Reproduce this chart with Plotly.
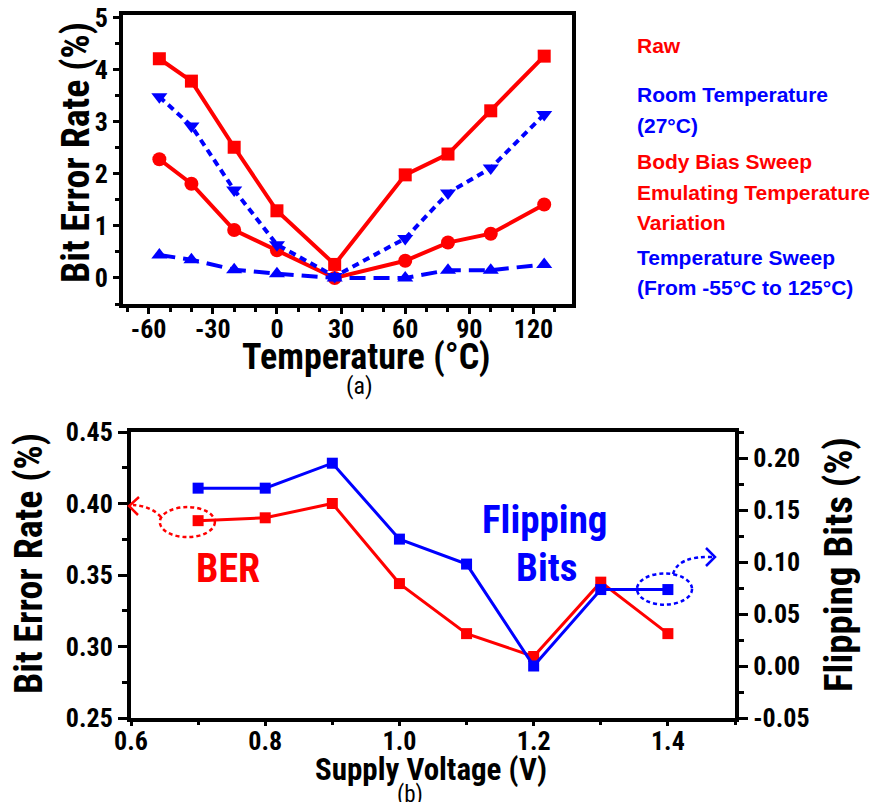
import plotly.graph_objects as go

# ---------------- data ----------------
temps = [-55, -40, -20, 0, 27, 60, 80, 100, 125]
raw_body_bias = [4.21, 3.78, 2.51, 1.29, 0.26, 1.98, 2.38, 3.21, 4.26]
raw_room = [2.28, 1.81, 0.92, 0.53, 0.0, 0.33, 0.68, 0.85, 1.41]
temp_sweep_hi = [3.48, 2.92, 1.69, 0.64, 0.03, 0.76, 1.63, 2.11, 3.14]
temp_sweep_lo = [0.44, 0.35, 0.16, 0.08, 0.0, 0.0, 0.15, 0.15, 0.26]

volts = [0.7, 0.8, 0.9, 1.0, 1.1, 1.2, 1.3, 1.4]
ber = [0.388, 0.390, 0.400, 0.344, 0.309, 0.293, 0.345, 0.309]
flip = [0.171, 0.171, 0.195, 0.122, 0.098, 0.0, 0.0735, 0.0735]

temp_ticks = [-60, -30, 0, 30, 60, 90, 120]
temp_ticktext = ["-60", "-30", "0", "30", "60", "90", "120"]
volt_ticks = [0.6, 0.8, 1.0, 1.2, 1.4]
volt_ticktext = ["0.6", "0.8", "1.0", "1.2", "1.4"]
ber_ticks = [0.25, 0.30, 0.35, 0.40, 0.45]
ber_ticktext = ["0.25", "0.30", "0.35", "0.40", "0.45"]
flip_ticks = [-0.05, 0.0, 0.05, 0.10, 0.15, 0.20]
flip_ticktext = ["-0.05", "0.00", "0.05", "0.10", "0.15", "0.20"]
legend_lines = [
    ("Raw", "red"),
    ("Room Temperature", "blue"),
    ("(27°C)", "blue"),
    ("Body Bias Sweep", "red"),
    ("Emulating Temperature", "red"),
    ("Variation", "red"),
    ("Temperature Sweep", "blue"),
    ("(From -55°C to 125°C)", "blue"),
]

PAGE_W, PAGE_H = 882, 810
OFF = 8  # default body margin of the page
W, H = PAGE_W - 2 * OFF, PAGE_H - 2 * OFF
RED = "#FF0000"
BLUE = "#0000FF"
NARROW = "Roboto Condensed, Liberation Sans Narrow, Arial Narrow, Liberation Sans, Arial"
ARIAL = "Liberation Sans, Arial"


def px(x, y):
    """page pixel -> paper coordinates"""
    return (x - OFF) / W, 1 - (y - OFF) / H


fig = go.Figure()

fig.add_trace(go.Scatter(x=temps, y=raw_body_bias, name="Raw, Body Bias Sweep",
                         mode="lines+markers", xaxis="x", yaxis="y",
                         line=dict(color=RED, width=4),
                         marker=dict(symbol="square", size=13, color=RED)))
fig.add_trace(go.Scatter(x=temps, y=raw_room, name="Raw, Room Temperature",
                         mode="lines+markers", xaxis="x", yaxis="y",
                         line=dict(color=RED, width=4),
                         marker=dict(symbol="circle", size=14, color=RED)))
fig.add_trace(go.Scatter(x=temps, y=temp_sweep_hi, name="Temperature Sweep",
                         mode="lines+markers", xaxis="x", yaxis="y",
                         line=dict(color=BLUE, width=4, dash="7px,5px"),
                         marker=dict(symbol="triangle-down", size=14, color=BLUE)))
fig.add_trace(go.Scatter(x=temps, y=temp_sweep_lo, name="Temperature Sweep (room)",
                         mode="lines+markers", xaxis="x", yaxis="y",
                         line=dict(color=BLUE, width=4, dash="16px,8px"),
                         marker=dict(symbol="triangle-up", size=14, color=BLUE)))

fig.add_trace(go.Scatter(x=volts, y=ber, name="BER", mode="lines+markers",
                         xaxis="x2", yaxis="y2",
                         line=dict(color=RED, width=3),
                         marker=dict(symbol="square", size=11, color=RED)))
fig.add_trace(go.Scatter(x=volts, y=flip, name="Flipping Bits", mode="lines+markers",
                         xaxis="x2", yaxis="y3",
                         line=dict(color=BLUE, width=3),
                         marker=dict(symbol="square", size=11, color=BLUE)))

tickfont_top = dict(family=NARROW, size=26, color="black", weight="bold")
tickfont_bot = dict(family=NARROW, size=26, color="black", weight="bold")

axis_common = dict(showline=True, linecolor="black", linewidth=4, mirror=True,
                   ticks="outside", tickcolor="black", tickwidth=3,
                   showgrid=False, zeroline=False, automargin=False,
                   ticklabeloverflow="allow")

x0d, y0d = px(123, 304)
x1d, y1d = px(572, 15)
bx0, by0 = px(131, 718)
bx1, by1 = px(735, 432)

fig.update_layout(
    width=W, height=H,
    margin=dict(l=0, r=0, t=0, b=0, autoexpand=False),
    paper_bgcolor="white", plot_bgcolor="white",
    showlegend=False,
    xaxis=dict(domain=[x0d, x1d], anchor="y", range=[-72, 138],
               tickvals=temp_ticks, ticktext=temp_ticktext, ticklen=6,
               tickfont=tickfont_top, ticklabelstandoff=-7,
               minor=dict(dtick=10, tick0=0, ticks="outside", ticklen=4,
                          tickwidth=3, tickcolor="black"),
               **axis_common),
    yaxis=dict(domain=[y0d, y1d], anchor="x", range=[-0.5, 5.05],
               dtick=1, tick0=0, ticklen=6, tickfont=tickfont_top,
               minor=dict(dtick=0.5, ticks="outside", ticklen=4,
                          tickwidth=3, tickcolor="black"),
               **axis_common),
    xaxis2=dict(domain=[bx0, bx1], anchor="y2", range=[0.6, 1.5],
                tickvals=volt_ticks, ticktext=volt_ticktext, ticklen=4,
                tickfont=tickfont_bot, ticklabelstandoff=-7,
                minor=dict(dtick=0.1, tick0=0.6, ticks="outside", ticklen=3,
                           tickwidth=3, tickcolor="black"),
                **axis_common),
    yaxis2=dict(domain=[by0, by1], anchor="x2", range=[0.25, 0.45],
                tickvals=ber_ticks, ticktext=ber_ticktext, ticklen=9,
                tickfont=tickfont_bot,
                minor=dict(dtick=0.025, tick0=0.25, ticks="outside", ticklen=5,
                           tickwidth=3, tickcolor="black"),
                **axis_common),
    yaxis3=dict(overlaying="y2", anchor="x2", side="right",
                range=[-0.05, 0.225], tickvals=flip_ticks, ticktext=flip_ticktext,
                ticklen=9, tickfont=tickfont_bot,
                minor=dict(dtick=0.025, tick0=-0.05, ticks="outside", ticklen=5,
                           tickwidth=3, tickcolor="black"),
                showline=True, linecolor="black", linewidth=4,
                ticks="outside", tickcolor="black", tickwidth=3,
                showgrid=False, zeroline=False, automargin=False,
                ticklabeloverflow="allow"),
)

annotations = []


def add_text(text, xp, yp, size, color="black", bold=True, family=NARROW,
             angle=0, xanchor="center"):
    ax, ay = px(xp, yp)
    annotations.append(dict(text=text, x=ax, y=ay, xref="paper", yref="paper",
                            showarrow=False, textangle=angle, xanchor=xanchor,
                            yanchor="middle",
                            font=dict(family=family, size=size, color=color,
                                      weight="bold" if bold else "normal")))


add_text("Temperature (°C)", 366, 357, 36)
add_text("Bit Error Rate (%)", 76, 153, 38, angle=-90)
add_text("(a)", 359, 386, 24, bold=False)

legend_y = [45, 95, 125, 162, 193, 223, 258, 288]
for (txt, col), yy in zip(legend_lines, legend_y):
    add_text(txt, 635, yy, 21, color=RED if col == "red" else BLUE,
             family=ARIAL, xanchor="left")

add_text("Supply Voltage (V)", 431, 769, 31)
add_text("Bit Error Rate (%)", 29, 564, 38, angle=-90)
add_text("Flipping Bits (%)", 839, 565, 39, angle=-90)
add_text("(b)", 410, 794, 23, bold=False)
add_text("BER", 228, 568, 40, color=RED)
add_text("Flipping", 545, 520, 39, color=BLUE)
add_text("Bits", 546, 568, 39, color=BLUE)

fig.update_layout(annotations=annotations)

shapes = []
shapes.append(dict(type="circle", xref="x2", yref="y2",
                   x0=volts[0] - 0.057, x1=volts[0] + 0.025,
                   y0=ber[0] - 0.0115, y1=ber[0] + 0.0095,
                   line=dict(color=RED, width=2.5, dash="4px,3px")))
shapes.append(dict(type="circle", xref="x2", yref="y3",
                   x0=volts[-1] - 0.046, x1=volts[-1] + 0.036,
                   y0=flip[-1] - 0.0145, y1=flip[-1] + 0.0155,
                   line=dict(color=BLUE, width=2.5, dash="4px,3px")))


def pt(xx, yy):
    a, b = px(xx, yy)
    return f"{a:.5f},{b:.5f}"


shapes.append(dict(type="path", xref="paper", yref="paper",
                   path=f"M {pt(161, 517)} Q {pt(151, 506)} {pt(133, 505)}",
                   line=dict(color=RED, width=2.5, dash="4px,3px")))
shapes.append(dict(type="path", xref="paper", yref="paper",
                   path=f"M {pt(139, 497)} L {pt(129, 506)} L {pt(138, 515)}",
                   line=dict(color=RED, width=2.5)))
shapes.append(dict(type="path", xref="paper", yref="paper",
                   path=f"M {pt(673, 574)} Q {pt(678, 556)} {pt(712, 557)}",
                   line=dict(color=BLUE, width=2.5, dash="4px,3px")))
shapes.append(dict(type="path", xref="paper", yref="paper",
                   path=f"M {pt(706, 548)} L {pt(715, 557)} L {pt(706, 566)}",
                   line=dict(color=BLUE, width=2.5)))

fig.update_layout(shapes=shapes)

fig.write_html("out.html", config=dict(displayModeBar=False))
